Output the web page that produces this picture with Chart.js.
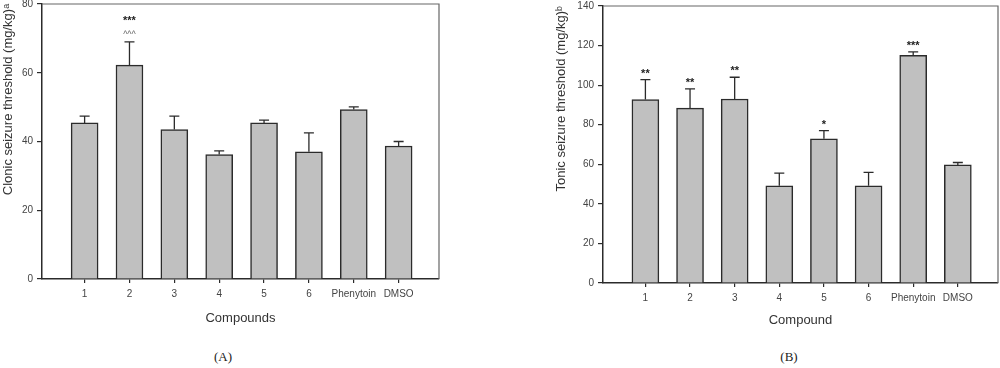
<!DOCTYPE html>
<html>
<head>
<meta charset="utf-8">
<script src="https://cdn.jsdelivr.net/npm/chart.js@4.4.1/dist/chart.umd.min.js"></script>
<style>
  body { margin: 0; background: #fff; width: 1000px; height: 368px; position: relative; overflow: hidden; }
  .box { position: absolute; top: 0; height: 340px; }
  #boxA { left: 0; width: 460px; }
  #boxB { left: 550px; width: 450px; }
  .cap { position: absolute; top: 349px; font: 13px "Liberation Serif", serif; color: #222; transform: translateX(-50%); }
</style>
</head>
<body>
<div class="box" id="boxA"><canvas id="chartA"></canvas></div>
<div class="box" id="boxB"><canvas id="chartB"></canvas></div>
<div class="cap" style="left:223px">(A)</div>
<div class="cap" style="left:789px">(B)</div>
<script>
const compounds = ["1", "2", "3", "4", "5", "6", "Phenytoin", "DMSO"];

// clonic threshold, mean and SEM
const clonicMean = [45.4, 62.2, 43.5, 36.2, 45.4, 37.0, 49.3, 38.7];
const clonicSem = [2.0, 6.8, 3.9, 1.1, 0.8, 5.5, 0.8, 1.3];
const clonicStars = ["", "***", "", "", "", "", "", ""];
const clonicCarets = ["", "^^^", "", "", "", "", "", ""];

// tonic threshold
const tonicMean = [92.7, 88.4, 93.0, 49.1, 72.9, 49.1, 115.1, 59.7];
const tonicSem = [10.1, 9.7, 11.0, 6.4, 4.1, 6.8, 1.7, 1.2];
const tonicStars = ["**", "**", "**", "", "*", "", "***", ""];
const tonicCarets = ["", "", "", "", "", "", "", ""];

const ink = "#2b2b2b";
const sans = "'Liberation Sans', Arial, sans-serif";

const errorBars = {
  id: "errorBars",
  afterDatasetsDraw(chart, args, opts) {
    const ctx = chart.ctx;
    const yScale = chart.scales.y;
    const meta = chart.getDatasetMeta(0);
    ctx.save();
    meta.data.forEach((bar, i) => {
      const top = yScale.getPixelForValue(opts.mean[i] + opts.sem[i]);
      ctx.strokeStyle = ink;
      ctx.lineWidth = 1.3;
      ctx.beginPath();
      ctx.moveTo(bar.x, bar.y);
      ctx.lineTo(bar.x, top);
      ctx.moveTo(bar.x - 5, top);
      ctx.lineTo(bar.x + 5, top);
      ctx.stroke();

      ctx.textAlign = "center";
      ctx.textBaseline = "middle";
      let y = top - 9;
      if (opts.carets[i]) {
        ctx.fillStyle = "#666";
        ctx.font = "9px " + sans;
        ctx.fillText(opts.carets[i], bar.x, y + 2);
        y -= 15;
      }
      if (opts.stars[i]) {
        ctx.fillStyle = "#222";
        ctx.font = "bold 11px " + sans;
        ctx.fillText(opts.stars[i], bar.x, y + 3);
      }
    });
    ctx.restore();
  }
};

const frame = {
  id: "frame",
  afterDraw(chart) {
    const { ctx, chartArea: a } = chart;
    ctx.save();
    ctx.strokeStyle = "#666";
    ctx.lineWidth = 1.2;
    ctx.beginPath();
    ctx.moveTo(a.left, a.top);
    ctx.lineTo(a.right, a.top);
    ctx.lineTo(a.right, a.bottom);
    ctx.stroke();
    ctx.restore();
  }
};

function makeChart(canvas, cfg) {
  return new Chart(canvas, {
    type: "bar",
    data: {
      datasets: [{
        data: cfg.mean.map((v, i) => ({ x: i + 1, y: v })),
        backgroundColor: "#c0c0c0",
        borderColor: ink,
        borderWidth: 1.5,
        barThickness: 27,
      }]
    },
    plugins: [errorBars, frame],
    options: {
      responsive: true,
      maintainAspectRatio: false,
      animation: false,
      layout: { padding: { left: 0, top: cfg.top, right: cfg.right, bottom: 0 } },
      plugins: {
        legend: { display: false },
        tooltip: { enabled: false },
        errorBars: { mean: cfg.mean, sem: cfg.sem, stars: cfg.stars, carets: cfg.carets },
      },
      scales: {
        x: {
          type: "linear",
          offset: false,
          min: 0.05,
          max: 8.9,
          afterBuildTicks: (s) => { s.ticks = compounds.map((c, i) => ({ value: i + 1 })); },
          afterFit: (s) => { s.height = cfg.xHeight; s.paddingLeft = 0; s.paddingRight = 0; },
          grid: { offset: false, drawOnChartArea: false, drawTicks: true, tickLength: 4, color: ink, lineWidth: 1.2 },
          border: { display: true, color: ink, width: 1.5 },
          ticks: {
            autoSkip: false, maxRotation: 0, padding: 5, color: "#444",
            font: { family: sans, size: 10 },
            callback: (v) => compounds[v - 1],
          },
          title: {
            display: true, text: cfg.xTitle, color: "#333",
            font: { family: sans, size: 13 },
            padding: { top: 0, bottom: cfg.xTitlePad },
          },
        },
        y: {
          min: 0,
          max: cfg.yMax,
          afterFit: (s) => { s.width = cfg.yWidth; s.paddingTop = 0; s.paddingBottom = 0; },
          grid: { drawOnChartArea: false, drawTicks: true, tickLength: 5, color: ink, lineWidth: 1.2 },
          border: { display: true, color: ink, width: 1.5 },
          ticks: { stepSize: 20, padding: 4, color: "#444", font: { family: sans, size: 10 } },
          title: {
            display: true, text: cfg.yTitle, color: "#333", align: "end",
            font: { family: sans + ", 'DejaVu Sans'", size: 13 },
            padding: { top: cfg.yTitlePad, bottom: 0 },
          },
        },
      },
    },
  });
}

makeChart(document.getElementById("chartA"), {
  mean: clonicMean, sem: clonicSem, stars: clonicStars, carets: clonicCarets,
  yMax: 80, top: 4, right: 21, yWidth: 42, xHeight: 61, xTitlePad: 14, yTitlePad: 1,
  xTitle: "Compounds", yTitle: "Clonic seizure threshold (mg/kg)ᵃ",
});

makeChart(document.getElementById("chartB"), {
  mean: tonicMean, sem: tonicSem, stars: tonicStars, carets: tonicCarets,
  yMax: 140, top: 6, right: 2, yWidth: 53, xHeight: 57, xTitlePad: 12, yTitlePad: 4,
  xTitle: "Compound", yTitle: "Tonic seizure threshold (mg/kg)ᵇ",
});
</script>
</body>
</html>
